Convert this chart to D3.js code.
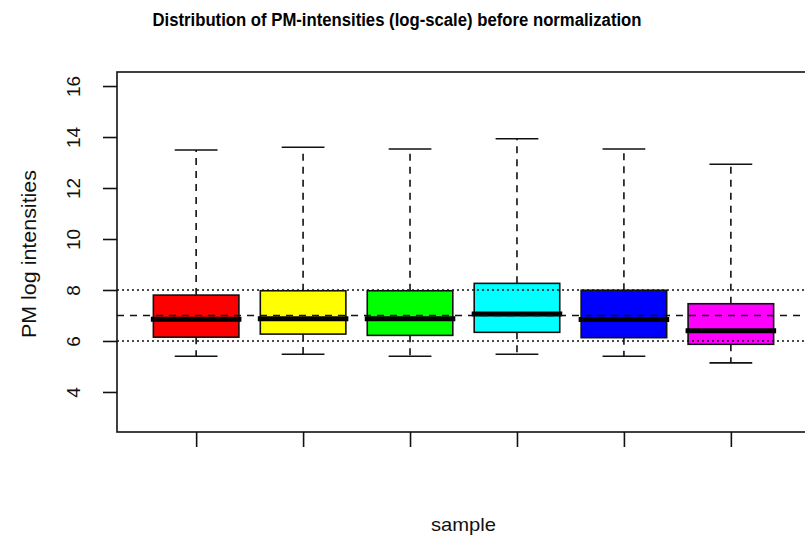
<!DOCTYPE html>
<html>
<head>
<meta charset="utf-8">
<script src="https://cdn.jsdelivr.net/npm/d3@7"></script>
<style>
  body { margin: 0; background: #fff; }
  svg { display: block; font-family: "Liberation Sans", Arial, Helvetica, sans-serif; }
</style>
</head>
<body>
<div id="chart"></div>
<script>
// values
var samples = [1, 2, 3, 4, 5, 6];
var colors = ["#ff0000", "#ffff00", "#00ff00", "#00ffff", "#0000ff", "#ff00ff"];
var lowerWhisker = [5.40, 5.48, 5.40, 5.48, 5.40, 5.14];
var q1 = [6.15, 6.27, 6.22, 6.34, 6.13, 5.87];
var median = [6.85, 6.87, 6.87, 7.06, 6.84, 6.40];
var q3 = [7.80, 7.97, 7.97, 8.26, 7.99, 7.46];
var upperWhisker = [13.49, 13.60, 13.53, 13.93, 13.53, 12.93];
var yTicks = [4, 6, 8, 10, 12, 14, 16];
var dottedLines = [6, 8];
var dashedLines = [7];

var width = 805,
    height = 540,
    plotLeft = 117,
    plotRight = 810,
    plotTop = 72,
    plotBottom = 432,
    ink = "#111";

var svg = d3.select("#chart")
    .append("svg")
    .attr("width", width)
    .attr("height", height);

var x = d3.scaleLinear()
    .domain([0.26, 6.74])
    .range([plotLeft, plotRight]);

var y = d3.scaleLinear()
    .domain([2.43, 16.55])
    .range([plotBottom, plotTop]);

var data = samples.map(function (s, i) {
    return {
        pos: s,
        color: colors[i],
        lo: lowerWhisker[i],
        q1: q1[i],
        med: median[i],
        q3: q3[i],
        hi: upperWhisker[i]
    };
});

var plot = svg.append("g");

var boxes = plot.selectAll("g.box")
    .data(data)
    .enter()
    .append("g")
    .attr("class", "box");

// whiskers (dashed)
boxes.append("line")
    .attr("x1", function (d) { return x(d.pos); })
    .attr("x2", function (d) { return x(d.pos); })
    .attr("y1", function (d) { return y(d.q3); })
    .attr("y2", function (d) { return y(d.hi); })
    .style("stroke", ink)
    .style("stroke-width", 1.6)
    .style("stroke-dasharray", "7,6");

boxes.append("line")
    .attr("x1", function (d) { return x(d.pos); })
    .attr("x2", function (d) { return x(d.pos); })
    .attr("y1", function (d) { return y(d.q1); })
    .attr("y2", function (d) { return y(d.lo); })
    .style("stroke", ink)
    .style("stroke-width", 1.6)
    .style("stroke-dasharray", "7,6");

// whisker caps
boxes.selectAll("line.cap")
    .data(function (d) { return [{pos: d.pos, v: d.hi}, {pos: d.pos, v: d.lo}]; })
    .enter()
    .append("line")
    .attr("class", "cap")
    .attr("x1", function (d) { return x(d.pos - 0.2); })
    .attr("x2", function (d) { return x(d.pos + 0.2); })
    .attr("y1", function (d) { return y(d.v); })
    .attr("y2", function (d) { return y(d.v); })
    .style("stroke", ink)
    .style("stroke-width", 1.6);

// boxes
boxes.append("rect")
    .attr("x", function (d) { return x(d.pos - 0.4); })
    .attr("width", function (d) { return x(d.pos + 0.4) - x(d.pos - 0.4); })
    .attr("y", function (d) { return y(d.q3); })
    .attr("height", function (d) { return y(d.q1) - y(d.q3); })
    .style("fill", function (d) { return d.color; })
    .style("stroke", ink)
    .style("stroke-width", 1.6);

// medians
boxes.append("line")
    .attr("x1", function (d) { return x(d.pos - 0.4) - 2.5; })
    .attr("x2", function (d) { return x(d.pos + 0.4) + 2.5; })
    .attr("y1", function (d) { return y(d.med); })
    .attr("y2", function (d) { return y(d.med); })
    .style("stroke", "#000")
    .style("stroke-width", 5);

// reference lines
plot.selectAll("line.dotted")
    .data(dottedLines)
    .enter()
    .append("line")
    .attr("class", "dotted")
    .attr("x1", plotLeft)
    .attr("x2", width)
    .attr("y1", function (d) { return y(d); })
    .attr("y2", function (d) { return y(d); })
    .style("stroke", ink)
    .style("stroke-width", 1.6)
    .style("stroke-dasharray", "2,3");

plot.selectAll("line.dashed")
    .data(dashedLines)
    .enter()
    .append("line")
    .attr("class", "dashed")
    .attr("x1", plotLeft)
    .attr("x2", width)
    .attr("y1", function (d) { return y(d); })
    .attr("y2", function (d) { return y(d); })
    .style("stroke", ink)
    .style("stroke-width", 1.6)
    .style("stroke-dasharray", "7,6");

// frame
svg.append("rect")
    .attr("x", plotLeft)
    .attr("y", plotTop)
    .attr("width", plotRight - plotLeft)
    .attr("height", plotBottom - plotTop)
    .style("fill", "none")
    .style("stroke", ink)
    .style("stroke-width", 1.6);

// y axis
var yAxis = svg.append("g")
    .attr("transform", "translate(" + plotLeft + ",0)")
    .call(d3.axisLeft(y).tickValues(yTicks).tickSize(14).tickSizeOuter(0));

yAxis.select(".domain").remove();
yAxis.selectAll(".tick line").style("stroke", ink).style("stroke-width", 1.6);
yAxis.selectAll(".tick text")
    .attr("x", null)
    .attr("dy", null)
    .attr("transform", "translate(-37,0) rotate(-90)")
    .attr("text-anchor", "middle")
    .style("font-size", "19px")
    .style("fill", "#111");

// x axis (ticks only)
var xAxis = svg.append("g")
    .attr("transform", "translate(0," + plotBottom + ")")
    .call(d3.axisBottom(x).tickValues(samples).tickSize(15).tickSizeOuter(0).tickFormat(""));

xAxis.select(".domain").remove();
xAxis.selectAll(".tick line").style("stroke", ink).style("stroke-width", 1.6);

// titles
svg.append("text")
    .attr("x", 397)
    .attr("y", 26)
    .attr("text-anchor", "middle")
    .attr("textLength", 489)
    .attr("lengthAdjust", "spacingAndGlyphs")
    .style("font-size", "18px")
    .style("font-weight", "bold")
    .style("fill", "#000")
    .text("Distribution of PM-intensities (log-scale) before normalization");

svg.append("text")
    .attr("x", (plotLeft + plotRight) / 2)
    .attr("y", 531)
    .attr("text-anchor", "middle")
    .attr("textLength", 65)
    .attr("lengthAdjust", "spacingAndGlyphs")
    .style("font-size", "19px")
    .style("fill", "#111")
    .text("sample");

svg.append("text")
    .attr("transform", "translate(36," + ((plotTop + plotBottom) / 2 + 2) + ") rotate(-90)")
    .attr("text-anchor", "middle")
    .attr("textLength", 168)
    .attr("lengthAdjust", "spacingAndGlyphs")
    .style("font-size", "20px")
    .style("fill", "#111")
    .text("PM log intensities");
</script>
</body>
</html>
